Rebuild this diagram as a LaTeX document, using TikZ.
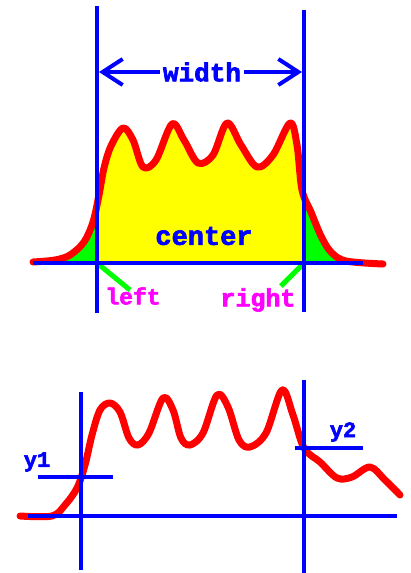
\documentclass[tikz,border=0pt]{standalone}
\usepackage{fontspec}
\newfontfamily\tagfont{Liberation Mono}[BoldFeatures={FakeBold=2.5}]
\usetikzlibrary{arrows.meta}
\definecolor{peakred}{HTML}{FF0000}
\definecolor{guideblue}{HTML}{0000FF}
\definecolor{tailgreen}{HTML}{00FF00}
\definecolor{bodyyellow}{HTML}{FFFF00}
\definecolor{tagmagenta}{HTML}{FF00FF}

% outline of the two curves (pixel units, y downwards)
\def\upperpts{(33,262) (55,260) (70,255) (84,242) (93,222) (99,195) (104,168) (111,146) (123,128) (133,140) (143,167) (156,160) (172,124) (184,140) (198,163) (213,155) (227,123) (241,145) (257,167) (273,155) (290,123) (297,145) (302,190) (311,212) (321,236) (331,252) (346,261) (383,264)}
\def\lowerpts{(20,516) (52,516) (65,505) (77,488) (85,465) (92,435) (100,410) (110,403) (120,412) (129,438) (138,445) (149,433) (163,398) (173,410) (181,438) (190,445) (203,433) (217,395) (228,407) (239,440) (250,447) (266,433) (282,390) (293,415) (304,448) (320,462) (337,478) (352,477) (370,467) (385,480) (400,495)}

\begin{document}
\begin{tikzpicture}[
    x=1pt, y=-1pt,
    guide/.style={guideblue, line width=4pt},
    signal/.style={peakred, line width=7pt, line join=round, line cap=round},
    tailline/.style={tailgreen, line width=5pt},
    tag/.style={font=\tagfont\bfseries\fontsize{#1}{#1}\selectfont, inner sep=0pt},
    barb/.style={-{Straight Barb[length=20pt, width=26pt]}}
]
    \useasboundingbox[fill=white] (0,0) rectangle (410,573);

    % upper picture
    \fill[tailgreen] plot[smooth, tension=0.55] coordinates {\upperpts} -- (383,263) -- (33,263) -- cycle;
    \begin{scope}
        \clip (97,0) rectangle (304,263);
        \fill[bodyyellow] plot[smooth, tension=0.55] coordinates {\upperpts} -- (383,263) -- (33,263) -- cycle;
    \end{scope}
    \draw[signal] plot[smooth, tension=0.55] coordinates {\upperpts};

    \coordinate (lc) at (97,263);
    \coordinate (rc) at (304,263);
    \coordinate (lend) at (130,290);
    \coordinate (rend) at (281,286);
    \draw[tailline] (lc) -- (lend);
    \draw[tailline] (rc) -- (rend);

    \draw[guide] (97,6) -- (97,313);
    \draw[guide] (304,10) -- (304,312);
    \draw[guide] (33,263) -- (363,263);

    \coordinate (wl) at (99,72);
    \coordinate (wr) at (302,72);
    \node[tag=26, text=guideblue, inner xsep=3pt] (width) at (202,72) {width};
    \draw[guide, barb] (width.west) -- (wl);
    \draw[guide, barb] (width.east) -- (wr);

    \node[tag=27, text=guideblue] (center) at (204,236) {center};
    \node[tag=23, text=tagmagenta] (left) at (133,296) {left};
    \node[tag=25, text=tagmagenta] (right) at (258,300) {right};

    % lower picture
    \draw[signal] plot[smooth, tension=0.55] coordinates {\lowerpts};
    \draw[guide] (81,392) -- (81,570);
    \draw[guide] (304,380) -- (304,573);
    \draw[guide] (28,516) -- (397,516);
    \draw[guide] (38,477) -- (113,477);
    \draw[guide] (295,448) -- (363,448);
    \node[tag=22, text=guideblue] (y1) at (37,462) {y1};
    \node[tag=22, text=guideblue] (y2) at (343,432) {y2};
\end{tikzpicture}
\end{document}
